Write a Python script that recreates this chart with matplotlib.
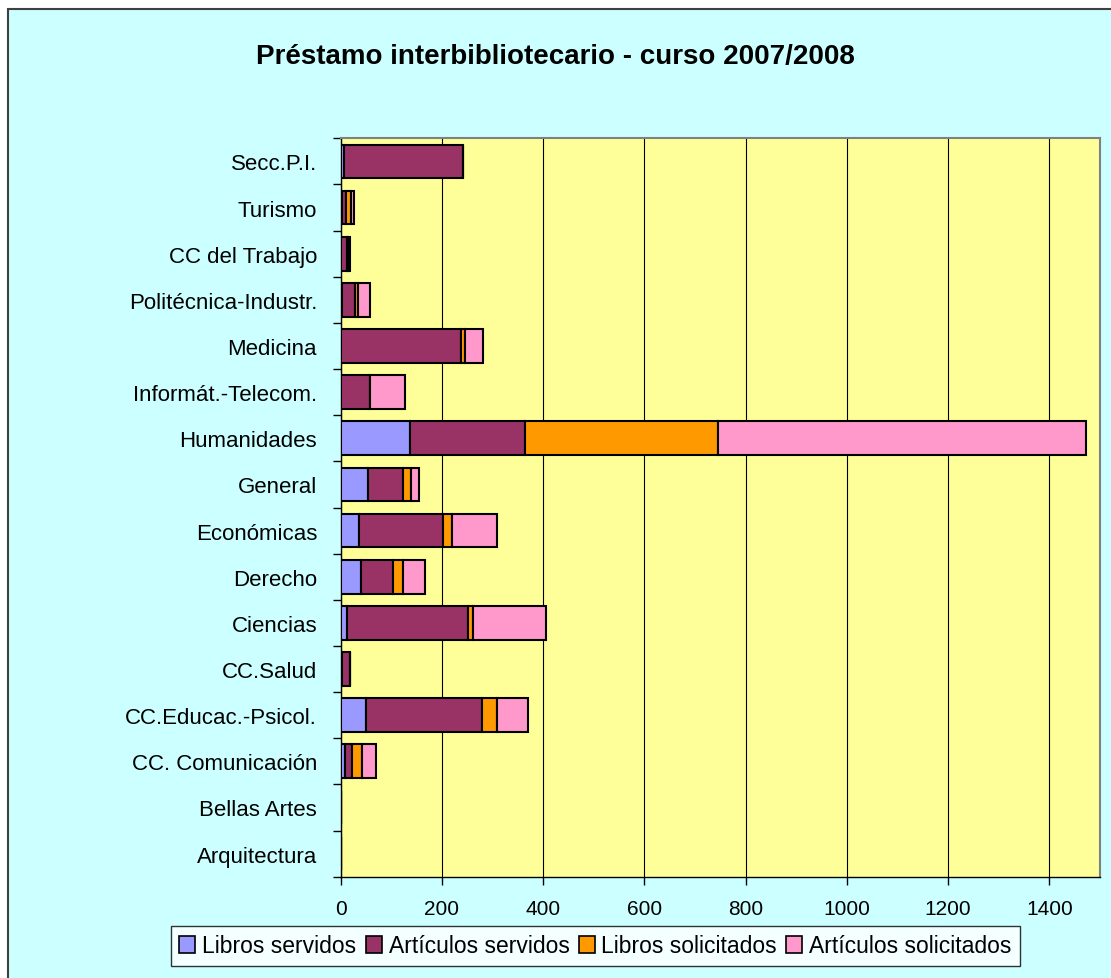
import matplotlib
matplotlib.use('Agg')
import matplotlib.pyplot as plt
from matplotlib.patches import Rectangle, Patch
import numpy as np

plt.rcParams['font.family'] = ['Liberation Sans', 'DejaVu Sans']

# categories from bottom to top
categorias = ['Arquitectura', 'Bellas Artes', 'CC. Comunicación', 'CC.Educac.-Psicol.',
              'CC.Salud', 'Ciencias', 'Derecho', 'Económicas', 'General', 'Humanidades',
              'Informát.-Telecom.', 'Medicina', 'Politécnica-Industr.', 'CC del Trabajo',
              'Turismo', 'Secc.P.I.']

libros_servidos = [0, 0, 8, 50, 2, 12, 40, 37, 53, 137, 0, 0, 2, 0, 2, 6]
articulos_servidos = [0, 0, 15, 230, 16, 240, 64, 166, 70, 227, 57, 238, 27, 12, 9, 236]
libros_solicitados = [0, 0, 20, 29, 0, 10, 19, 17, 16, 381, 0, 8, 6, 3, 9, 0]
articulos_solicitados = [0, 0, 27, 61, 0, 144, 43, 89, 16, 728, 70, 35, 23, 4, 7, 0]

series = ['Libros servidos', 'Artículos servidos', 'Libros solicitados', 'Artículos solicitados']
colores = ['#9999FF', '#993366', '#FF9900', '#FF99CC']

fig = plt.figure(figsize=(11.11, 9.79), dpi=100)
fig.patch.set_facecolor('white')

# outer chart frame
fig.patches.append(Rectangle((8/1111, -0.01), 1.1, 1 - 10/979 + 0.01,
                             transform=fig.transFigure, facecolor='#CCFFFF',
                             edgecolor='#404040', linewidth=1.5, zorder=-1))

ax = fig.add_axes([340.7/1111, 1 - 877.7/979, (1100 - 340.7)/1111, (877.7 - 139.3)/979])
ax.set_zorder(2)
ax.set_facecolor('#FFFF99')

y = np.arange(len(categorias))
left = np.zeros(len(categorias))
datos = [libros_servidos, articulos_servidos, libros_solicitados, articulos_solicitados]
for vals, col, nom in zip(datos, colores, series):
    vals = np.array(vals, dtype=float)
    ax.barh(y, vals, left=left, height=0.73, color=col, edgecolor='black',
            linewidth=1.5, label=nom, zorder=3)
    left += vals

ax.set_xlim(0, 1500)
ax.set_ylim(-0.5, len(categorias) - 0.5)
ax.set_xticks(np.arange(0, 1401, 200))
ax.xaxis.grid(True, color='black', linewidth=0.8, zorder=0)
ax.set_axisbelow(True)

ax.set_yticks(y)
ax.set_yticklabels(categorias, fontsize=16)
ax.set_yticks(np.arange(-0.5, len(categorias), 1), minor=True)
ax.tick_params(axis='y', which='major', length=0, pad=17)
ax.tick_params(axis='y', which='minor', length=6, width=1)
ax.tick_params(axis='x', labelsize=15, length=6, width=1, pad=10)

for s in ['top', 'right']:
    ax.spines[s].set_color('#808080')
    ax.spines[s].set_linewidth(1.5)
for s in ['left', 'bottom']:
    ax.spines[s].set_color('black')
    ax.spines[s].set_linewidth(1)

fig.text(0.5, 1 - 57/979, 'Préstamo interbibliotecario - curso 2007/2008',
         ha='center', va='center', fontsize=20, fontweight='bold')

handles = [Patch(facecolor=c, edgecolor='black', linewidth=1.2) for c in colores]
leg = fig.legend(handles, series, loc='center', bbox_to_anchor=(595.5/1111, 1 - 947/979),
                 ncol=4, fontsize=16.5, frameon=True, fancybox=False, shadow=False,
                 handlelength=0.7, handleheight=0.7, handletextpad=0.3,
                 columnspacing=0.4, borderpad=0.35, borderaxespad=0)
leg.get_frame().set_edgecolor('black')
leg.get_frame().set_linewidth(1)

fig.savefig('out.png', dpi=100, facecolor=fig.get_facecolor())
